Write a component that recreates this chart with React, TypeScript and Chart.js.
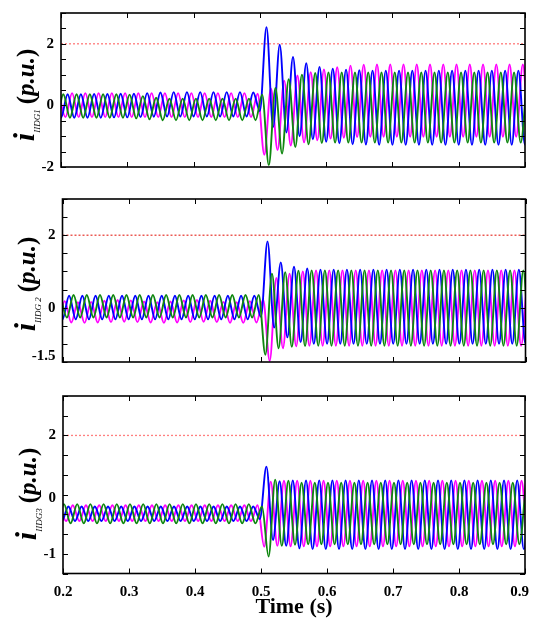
import React, { useEffect, useRef } from 'react';
import { Chart, registerables } from 'chart.js';

Chart.register(...registerables);

const FONT = '"Liberation Serif", "Times New Roman", serif';

// x axis
const X_MIN = 0.2;
const X_MAX = 0.9;
const X_TICK_LABELS = ['0.2', '0.3', '0.4', '0.5', '0.6', '0.7', '0.8', '0.9\u2002\u2009'];
const LIMIT_VALUE = 2; // 2 p.u. dotted limit
// time of the k = 0 extreme (before the first phase offset); extremes alternate every half cycle (50 Hz)
const T_FIRST = 0.18;
const HALF_CYCLE = 0.01;

// Phase offsets (s) of the positive peaks: [blue, green, magenta]
const P1_PHASE = [0.0100, 0.0035, 0.0167];
const P2_PHASE = [0.0100, 0.0167, 0.0033];
const P3_PHASE = [0.0082, 0.0015, 0.0148];

// Successive extremes (peak, trough, peak, ...), p.u.
const P1_BLUE = [
  0.36,-0.40,0.36,-0.40,0.36,-0.40,0.37,-0.40,0.37,-0.39,
  0.38,-0.39,0.38,-0.38,0.40,-0.37,0.42,-0.36,0.43,-0.36,
  0.43,-0.36,0.43,-0.36,0.43,-0.36,0.43,-0.36,0.43,-0.36,
  0.42,-0.18,2.54,-0.70,1.97,-0.88,1.57,-1.00,1.37,-1.10,
  1.25,-1.18,1.19,-1.23,1.16,-1.26,1.14,-1.27,1.13,-1.28,
  1.13,-1.28,1.13,-1.28,1.13,-1.28,1.13,-1.28,1.13,-1.28,
  1.13,-1.28,1.13,-1.28,1.13,-1.28,1.13,-1.28,1.13,-1.28,
  1.13,-1.28,1.13,
];
const P1_GREEN = [
  0.36,-0.40,0.36,-0.40,0.36,-0.40,0.36,-0.40,0.36,-0.40,
  0.36,-0.40,0.35,-0.42,0.30,-0.45,0.25,-0.48,0.22,-0.48,
  0.22,-0.48,0.22,-0.48,0.22,-0.48,0.22,-0.48,0.22,-0.48,
  0.22,-0.48,0.35,-1.94,0.57,-1.56,0.85,-1.35,1.00,-1.26,
  1.05,-1.22,1.07,-1.21,1.07,-1.21,1.07,-1.21,1.07,-1.21,
  1.07,-1.21,1.07,-1.21,1.07,-1.21,1.07,-1.21,1.07,-1.21,
  1.07,-1.21,1.07,-1.21,1.07,-1.21,1.07,-1.21,1.07,-1.21,
  1.07,-1.21,1.07,
];
const P1_MAGENTA = [
  0.40,-0.38,0.40,-0.38,0.40,-0.38,0.40,-0.38,0.40,-0.38,
  0.40,-0.38,0.40,-0.38,0.40,-0.38,0.40,-0.38,0.40,-0.38,
  0.40,-0.38,0.40,-0.38,0.40,-0.38,0.40,-0.38,0.40,-0.38,
  0.38,-1.60,0.55,-1.45,0.80,-1.30,0.97,-1.20,1.08,-1.13,
  1.17,-1.08,1.24,-1.05,1.29,-1.03,1.32,-1.02,1.33,-1.02,
  1.33,-1.02,1.33,-1.02,1.33,-1.02,1.33,-1.02,1.33,-1.02,
  1.33,-1.02,1.33,-1.02,1.33,-1.02,1.33,-1.02,1.33,-1.02,
  1.33,-1.02,1.33,
];

const P2_BLUE = [
  0.33,-0.32,0.33,-0.32,0.33,-0.32,0.33,-0.32,0.33,-0.32,
  0.33,-0.32,0.33,-0.32,0.33,-0.32,0.33,-0.32,0.33,-0.32,
  0.33,-0.32,0.33,-0.32,0.33,-0.32,0.33,-0.32,0.33,-0.32,
  0.33,-0.25,1.83,-0.55,1.25,-0.82,1.13,-0.95,1.08,-1.00,
  1.05,-1.00,1.05,-1.00,1.05,-1.00,1.05,-1.00,1.05,-1.00,
  1.05,-1.00,1.05,-1.00,1.05,-1.00,1.05,-1.00,1.05,-1.00,
  1.05,-1.00,1.05,-1.00,1.05,-1.00,1.05,-1.00,1.05,-1.00,
  1.05,-1.00,1.05,
];
const P2_GREEN = [
  0.35,-0.27,0.35,-0.27,0.35,-0.27,0.35,-0.27,0.35,-0.27,
  0.35,-0.27,0.35,-0.27,0.35,-0.27,0.35,-0.27,0.35,-0.27,
  0.35,-0.27,0.35,-0.27,0.35,-0.27,0.35,-0.27,0.35,-0.27,
  0.35,-1.30,0.94,-1.12,0.98,-1.08,1.02,-1.06,1.03,-1.05,
  1.03,-1.05,1.03,-1.05,1.03,-1.05,1.03,-1.05,1.03,-1.05,
  1.03,-1.05,1.03,-1.05,1.03,-1.05,1.03,-1.05,1.03,-1.05,
  1.03,-1.05,1.03,-1.05,1.03,-1.05,1.03,-1.05,1.03,-1.05,
  1.03,-1.05,1.03,
];
const P2_MAGENTA = [
  0.20,-0.40,0.18,-0.41,0.15,-0.42,0.16,-0.41,0.19,-0.40,
  0.21,-0.39,0.20,-0.40,0.17,-0.41,0.15,-0.42,0.17,-0.41,
  0.20,-0.40,0.21,-0.39,0.19,-0.40,0.16,-0.42,0.15,-0.42,
  0.18,-0.41,0.22,-1.47,0.82,-1.12,0.94,-1.07,1.00,-1.05,
  1.03,-1.05,1.03,-1.05,1.03,-1.05,1.03,-1.05,1.03,-1.05,
  1.03,-1.05,1.03,-1.05,1.03,-1.05,1.03,-1.05,1.03,-1.05,
  1.03,-1.05,1.03,-1.05,1.03,-1.05,1.03,-1.05,1.03,-1.05,
  1.03,-1.05,1.03,
];

const P3_BLUE = [
  0.20,-0.17,0.20,-0.17,0.20,-0.17,0.20,-0.17,0.20,-0.17,
  0.20,-0.17,0.20,-0.17,0.20,-0.17,0.20,-0.17,0.20,-0.17,
  0.20,-0.17,0.20,-0.17,0.20,-0.17,0.20,-0.17,0.20,-0.17,
  0.20,-0.12,1.21,-0.65,0.84,-0.80,0.86,-0.86,0.86,-0.88,
  0.86,-0.88,0.86,-0.88,0.86,-0.88,0.86,-0.88,0.86,-0.88,
  0.86,-0.88,0.86,-0.88,0.86,-0.88,0.86,-0.88,0.86,-0.88,
  0.86,-0.88,0.86,-0.88,0.86,-0.88,0.86,-0.88,0.86,-0.88,
  0.86,-0.88,0.86,
];
const P3_GREEN = [
  0.26,-0.23,0.26,-0.23,0.26,-0.23,0.26,-0.23,0.26,-0.23,
  0.26,-0.23,0.26,-0.23,0.26,-0.23,0.26,-0.23,0.26,-0.23,
  0.26,-0.23,0.26,-0.23,0.26,-0.23,0.26,-0.23,0.26,-0.23,
  0.26,-0.23,0.20,-1.07,0.88,-0.80,0.85,-0.77,0.80,-0.76,
  0.80,-0.76,0.80,-0.76,0.80,-0.76,0.80,-0.76,0.80,-0.76,
  0.80,-0.76,0.80,-0.76,0.80,-0.76,0.80,-0.76,0.80,-0.76,
  0.80,-0.76,0.80,-0.76,0.80,-0.76,0.80,-0.76,0.80,-0.76,
  0.80,-0.76,0.80,
];
const P3_MAGENTA = [
  0.23,-0.17,0.23,-0.17,0.23,-0.17,0.23,-0.17,0.23,-0.17,
  0.23,-0.17,0.23,-0.17,0.23,-0.17,0.23,-0.17,0.23,-0.17,
  0.23,-0.17,0.23,-0.17,0.23,-0.17,0.23,-0.17,0.23,-0.17,
  0.23,-0.82,0.83,-0.80,0.85,-0.81,0.85,-0.81,0.85,-0.81,
  0.85,-0.81,0.85,-0.81,0.85,-0.81,0.85,-0.81,0.85,-0.81,
  0.85,-0.81,0.85,-0.81,0.85,-0.81,0.85,-0.81,0.85,-0.81,
  0.85,-0.81,0.85,-0.81,0.85,-0.81,0.85,-0.81,0.85,-0.81,
  0.85,-0.81,0.85,
];

// y tick labels
const P1_YLABEL_VALUES = [2, 0, -2];
const P1_YLABEL_TEXT = ['2', '0', '-2'];
const P2_YLABEL_VALUES = [2, 0, -1.5];
const P2_YLABEL_TEXT = ['2', '0', '-1.5'];
const P3_YLABEL_VALUES = [2, 0, -1];
const P3_YLABEL_TEXT = ['2', '0', '-1'];

const BLUE = '#0000ff';
const GREEN = '#0f870f';
const MAGENTA = '#ff00ff';

function wave(ext: number[], phase: number) {
  return ext.map((v, k) => ({ x: T_FIRST + phase + HALF_CYCLE * k, y: v }));
}

const framePlugin = {
  id: 'matlabFrame',
  afterDatasetsDraw(chart: any) {
    const { ctx, chartArea: a, scales } = chart;
    const x = scales.x;
    const y = scales.y;
    const L = 5;
    ctx.save();
    ctx.strokeStyle = '#000';
    ctx.lineWidth = 1;
    ctx.beginPath();
    x.ticks.forEach((t: any) => {
      const px = Math.round(x.getPixelForValue(t.value)) + 0.5;
      ctx.moveTo(px, a.bottom);
      ctx.lineTo(px, a.bottom - L);
      ctx.moveTo(px, a.top);
      ctx.lineTo(px, a.top + L);
    });
    y.ticks.forEach((t: any) => {
      const py = Math.round(y.getPixelForValue(t.value)) + 0.5;
      ctx.moveTo(a.left, py);
      ctx.lineTo(a.left + L, py);
      ctx.moveTo(a.right, py);
      ctx.lineTo(a.right - L, py);
    });
    ctx.stroke();
    ctx.lineWidth = 1.6;
    ctx.strokeRect(a.left, a.top, a.right - a.left, a.bottom - a.top);
    ctx.restore();
  },
};

interface PanelCfg {
  height: number;
  left: number;
  padTop: number;
  padRight: number;
  xHeight: number;
  yMin: number;
  yMax: number;
  phase: number[];
  blue: number[];
  green: number[];
  magenta: number[];
  yValues: number[];
  yText: string[];
  liftIndex: number;
  liftLine: string;
  limitColor: string;
  showX: boolean;
}

const PANELS: { top: number; sub: string; titleX: number; titleY: number; cfg: PanelCfg }[] = [
  {
    top: 0, sub: 'IIDG1', titleX: 24, titleY: 95,
    cfg: {
      height: 190, left: 61, padTop: 13, padRight: 8, xHeight: 23, yMin: -2, yMax: 3,
      phase: P1_PHASE, blue: P1_BLUE, green: P1_GREEN, magenta: P1_MAGENTA,
      yValues: P1_YLABEL_VALUES, yText: P1_YLABEL_TEXT, liftIndex: -1, liftLine: '18px',
      limitColor: '#ff7a7a', showX: false,
    },
  },
  {
    top: 190, sub: 'IIDG 2', titleX: 25, titleY: 284,
    cfg: {
      height: 190, left: 62.5, padTop: 9, padRight: 7.5, xHeight: 18, yMin: -1.5, yMax: 3,
      phase: P2_PHASE, blue: P2_BLUE, green: P2_GREEN, magenta: P2_MAGENTA,
      yValues: P2_YLABEL_VALUES, yText: P2_YLABEL_TEXT, liftIndex: 2, liftLine: '12px',
      limitColor: '#e8443c', showX: false,
    },
  },
  {
    top: 380, sub: 'IIDG3', titleX: 26, titleY: 494,
    cfg: {
      height: 243, left: 63, padTop: 16, padRight: 8, xHeight: 49.5, yMin: -1.5, yMax: 3,
      phase: P3_PHASE, blue: P3_BLUE, green: P3_GREEN, magenta: P3_MAGENTA,
      yValues: P3_YLABEL_VALUES, yText: P3_YLABEL_TEXT, liftIndex: 1, liftLine: '32px',
      limitColor: '#ff7f7f', showX: true,
    },
  },
];

function makeChart(canvas: HTMLCanvasElement, c: PanelCfg) {
  const line = (data: any, color: string) => ({
    data,
    borderColor: color,
    borderWidth: 1.9,
    pointRadius: 0,
    cubicInterpolationMode: 'monotone' as const,
    fill: false,
  });
  return new Chart(canvas, {
    type: 'line',
    data: {
      datasets: [
        line(wave(c.green, c.phase[1]), GREEN),
        line(wave(c.blue, c.phase[0]), BLUE),
        line(wave(c.magenta, c.phase[2]), MAGENTA),
        {
          data: [{ x: X_MIN, y: LIMIT_VALUE }, { x: X_MAX, y: LIMIT_VALUE }],
          borderColor: c.limitColor,
          borderWidth: 1.3,
          borderDash: [2, 2],
          pointRadius: 0,
          fill: false,
        } as any,
      ],
    },
    options: {
      animation: false,
      responsive: false,
      devicePixelRatio: 1,
      layout: { padding: { top: c.padTop, right: c.padRight, left: 0, bottom: 0 } },
      plugins: { legend: { display: false }, tooltip: { enabled: false } },
      scales: {
        x: {
          type: 'linear',
          min: X_MIN,
          max: X_MAX,
          afterFit: (s: any) => {
            s.height = c.xHeight;
            s.paddingLeft = 0;
            s.paddingRight = 0;
          },
          grid: { display: false, drawTicks: false },
          border: { display: false },
          ticks: {
            display: c.showX,
            stepSize: 0.1,
            autoSkip: false,
            maxRotation: 0,
            padding: 10,
            color: '#000',
            font: { family: FONT, size: 15, weight: 'bold' },
            callback: (v: any) => {
              const i = Math.round((Number(v) - X_MIN) * 10);
              return X_TICK_LABELS[i] ?? '';
            },
          },
          title: {
            display: c.showX,
            text: 'Time (s)',
            color: '#000',
            font: { family: FONT, size: 22, weight: 'bold' },
            padding: { top: 0, bottom: 2 },
          },
        },
        y: {
          type: 'linear',
          min: c.yMin,
          max: c.yMax,
          afterFit: (s: any) => {
            s.width = c.left;
            s.paddingTop = 0;
            s.paddingBottom = 0;
          },
          grid: { display: false, drawTicks: false },
          border: { display: false },
          ticks: {
            stepSize: 0.5,
            autoSkip: false,
            padding: 7,
            color: '#000',
            font: { family: FONT, size: 15, weight: 'bold', lineHeight: c.liftLine },
            callback: (v: any) => {
              const i = c.yValues.findIndex((t) => Math.abs(t - Number(v)) < 1e-6);
              if (i < 0) return '';
              return i === c.liftIndex ? [c.yText[i], ''] : c.yText[i];
            },
          },
        },
      },
    },
    plugins: [framePlugin],
  } as any);
}

function Panel({ top, cfg }: { top: number; cfg: PanelCfg }) {
  const ref = useRef<HTMLCanvasElement>(null);
  useEffect(() => {
    if (!ref.current) return;
    const chart = makeChart(ref.current, cfg);
    return () => chart.destroy();
  }, [cfg]);
  return (
    <canvas
      ref={ref}
      width={533}
      height={cfg.height}
      style={{ position: 'absolute', left: 0, top, width: 533, height: cfg.height }}
    />
  );
}

function YTitle({ x, y, sub }: { x: number; y: number; sub: string }) {
  return (
    <div
      style={{
        position: 'absolute',
        left: x,
        top: y,
        transform: 'translate(-50%, -50%) rotate(-90deg)',
        whiteSpace: 'nowrap',
        fontFamily: FONT,
        lineHeight: 1,
        color: '#000',
      }}
    >
      <span style={{ fontSize: 30, fontWeight: 'bold', fontStyle: 'italic' }}>i</span>
      <span style={{ fontSize: 9, fontStyle: 'italic', position: 'relative', top: 6 }}>{sub}</span>
      <span style={{ fontSize: 25, fontWeight: 'bold' }}>{'\u2009('}</span>
      <span style={{ fontSize: 25, fontWeight: 'bold', fontStyle: 'italic' }}>{'p.u.'}</span>
      <span style={{ fontSize: 25, fontWeight: 'bold' }}>{')'}</span>
    </div>
  );
}

export default function App() {
  return (
    <div style={{ position: 'absolute', left: 0, top: 0, width: 533, height: 623, background: '#fff', overflow: 'hidden' }}>
      {PANELS.map((p, i) => (
        <Panel key={i} top={p.top} cfg={p.cfg} />
      ))}
      {PANELS.map((p, i) => (
        <YTitle key={'t' + i} x={p.titleX} y={p.titleY} sub={p.sub} />
      ))}
    </div>
  );
}
